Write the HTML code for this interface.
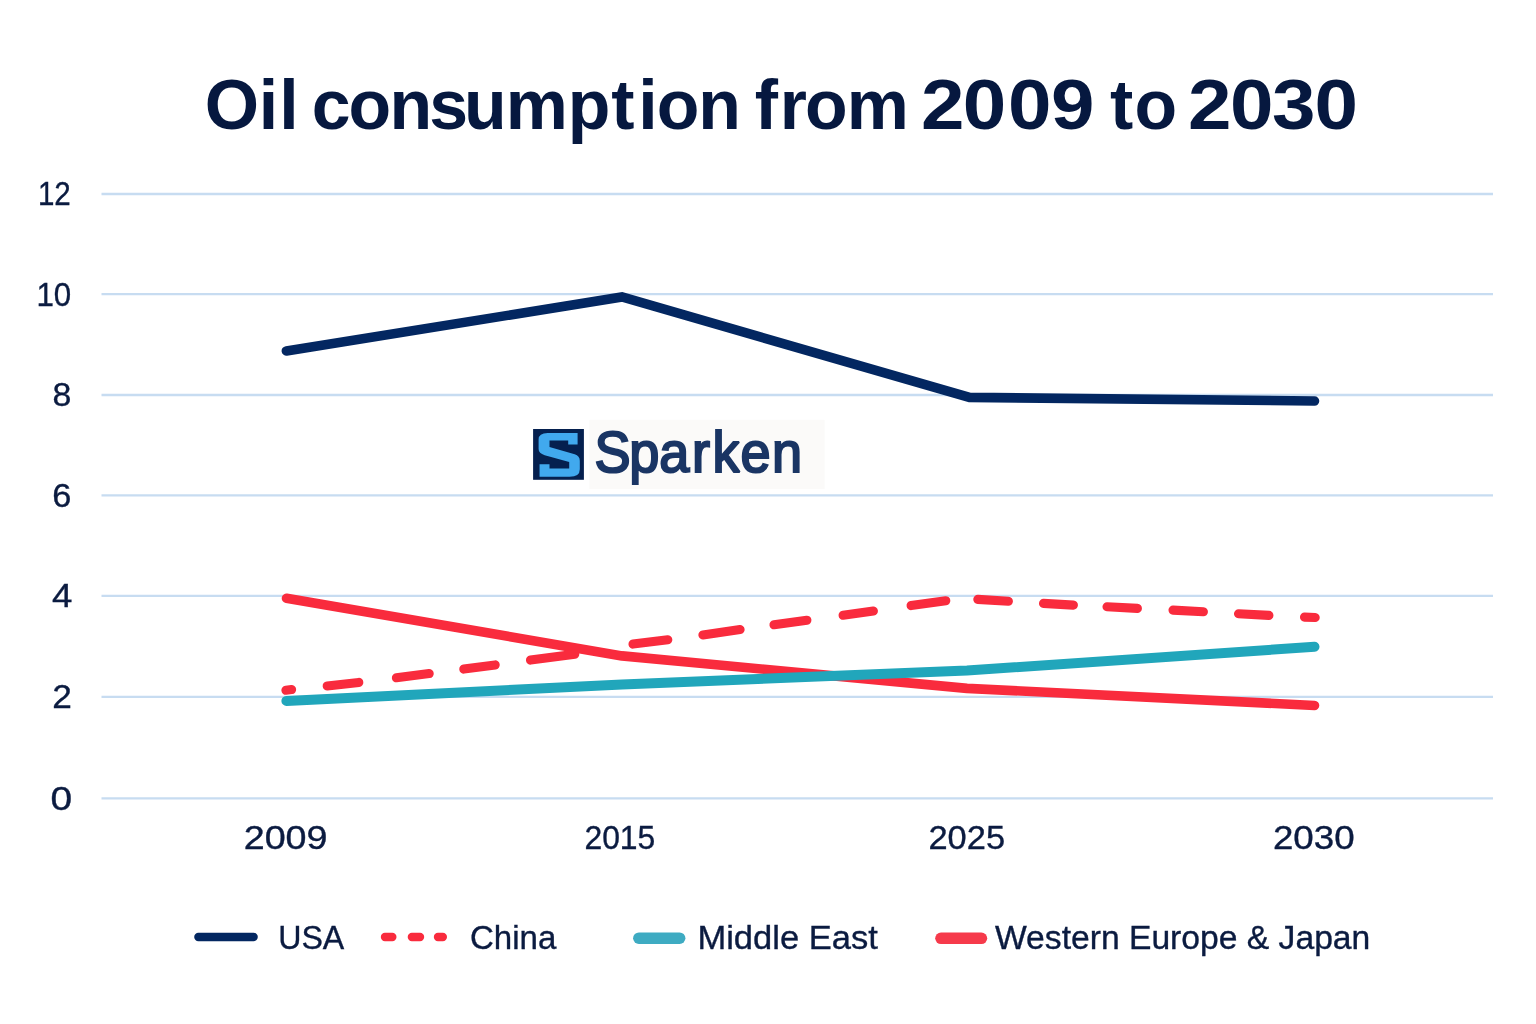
<!DOCTYPE html>
<html lang="en"><head><meta charset="utf-8">
<title>Oil consumption from 2009 to 2030</title>
<style>html,body{margin:0;padding:0;background:#fff;}body{width:1536px;height:1024px;overflow:hidden;}svg{display:block;will-change:transform;}text{font-family:'Liberation Sans', sans-serif;white-space:pre;}</style>
</head><body>
<svg width="1536" height="1024" viewBox="0 0 1536 1024">
<rect width="1536" height="1024" fill="#ffffff"/>
<g stroke="#c7dcf1" stroke-width="2.3">
<line x1="101.5" y1="194.0" x2="1493.0" y2="194.0"/>
<line x1="101.5" y1="294.15" x2="1493.0" y2="294.15"/>
<line x1="101.5" y1="395.0" x2="1493.0" y2="395.0"/>
<line x1="101.5" y1="495.4" x2="1493.0" y2="495.4"/>
<line x1="101.5" y1="595.8" x2="1493.0" y2="595.8"/>
<line x1="101.5" y1="696.9" x2="1493.0" y2="696.9"/>
<line x1="101.5" y1="798.45" x2="1493.0" y2="798.45"/>
</g>
<rect x="589.4" y="419.8" width="235.2" height="69.2" fill="#fbfaf9"/>
<g transform="translate(533.1,429)">
<rect width="50.8" height="50.8" fill="#05204f"/>
<path fill="#41a9ee" d="M14.6 4.1H44.5V15.6H35.1V11.6H16.4V17.9L41.6 25.2Q46.7 26.8 46.7 31.7V40.2Q46.7 47.8 36.5 47.8H6.45V35.3H16.4V39.5H36.1V33L11.6 26.2Q5.5 24.5 5.5 20.1V10.6Q5.5 4.1 14.6 4.1Z"/>
</g>
<polyline points="286.5,598.3 622.0,655.9 967.0,688.4 1314.5,705.5" fill="none" stroke-linecap="round" stroke-linejoin="round" stroke="#f92b3d" stroke-width="9.6"/>
<polyline points="286.4,700.9 622.0,684.4 967.0,670.5 1314.5,646.8" fill="none" stroke-linecap="round" stroke-linejoin="round" stroke="#21a6bb" stroke-width="10.0"/>
<g stroke="#f92b3d" stroke-width="9.1" stroke-linecap="round">
<line x1="285.9" y1="690.3" x2="291.6" y2="689.6"/>
<line x1="327.2" y1="685.9" x2="358.8" y2="682.4"/>
<line x1="396.4" y1="677.8" x2="429.2" y2="673.6"/>
<line x1="463.8" y1="669.1" x2="495.2" y2="664.9"/>
<line x1="530.5" y1="660.1" x2="574.8" y2="654.2"/>
<line x1="633.0" y1="644.1" x2="667.8" y2="639.8"/>
<line x1="702.9" y1="634.9" x2="740.1" y2="629.6"/>
<line x1="774.0" y1="624.8" x2="806.9" y2="620.2"/>
<line x1="843.1" y1="615.3" x2="873.4" y2="611.1"/>
<line x1="911.1" y1="605.6" x2="945.8" y2="600.7"/>
<line x1="977.8" y1="599.4" x2="1008.4" y2="601.3"/>
<line x1="1043.5" y1="603.4" x2="1073.4" y2="605.1"/>
<line x1="1107.0" y1="606.8" x2="1137.4" y2="608.4"/>
<line x1="1173.0" y1="610.1" x2="1203.4" y2="611.8"/>
<line x1="1238.5" y1="613.8" x2="1268.9" y2="615.4"/>
<line x1="1304.5" y1="617.1" x2="1315.2" y2="617.5"/>
</g>
<polyline points="286.4,350.9 622.0,297.0 969.5,397.4 1314.5,401.0" fill="none" stroke-linecap="round" stroke-linejoin="miter" stroke="#032761" stroke-width="9.6"/>
<line x1="198.4" y1="937.0" x2="253.6" y2="937.0" stroke="#032761" stroke-width="8.4" stroke-linecap="round"/>
<g stroke="#f92b3d" stroke-width="8.4" stroke-linecap="round">
<line x1="385.0" y1="937.0" x2="392.3" y2="937.0"/>
<line x1="411.9" y1="937.0" x2="420.0" y2="937.0"/>
<line x1="438.0" y1="937.0" x2="442.8" y2="937.0"/>
</g>
<line x1="638.9" y1="938.2" x2="679.6" y2="938.2" stroke="#3eabc2" stroke-width="11.6" stroke-linecap="round"/>
<line x1="941.0" y1="938.3" x2="981.4" y2="938.3" stroke="#f63a4b" stroke-width="11.6" stroke-linecap="round"/>
<text x="204.85 258.68 279.18" y="128.9" font-size="69.8" font-weight="700" fill="#06183f">Oil</text>
<text x="311.71 348.56 389.44 429.16 463.92 505.73 567.79 611.18 638.33 656.81 698.34" y="128.9" font-size="69.8" font-weight="700" fill="#06183f">consumption</text>
<text x="754.83 779.79 805.11 846.63" y="128.9" font-size="69.8" font-weight="700" fill="#06183f">from</text>
<text transform="scale(1.12 1)" x="822.37 859.56 900.09 938.44" y="128.9" font-size="69.8" font-weight="700" fill="#06183f">2009</text>
<text x="1109.88 1134.61" y="128.9" font-size="69.8" font-weight="700" fill="#06183f">to</text>
<text transform="scale(1.12 1)" x="1060.80 1098.22 1135.64 1173.58" y="128.9" font-size="69.8" font-weight="700" fill="#06183f">2030</text>
<text transform="scale(0.93 1)" x="639.20 676.62 708.94 744.14 766.27 796.32 830.00" y="471.7" font-size="58.2" font-weight="400" fill="#1a3564" stroke="#1a3564" stroke-width="2.2" stroke-linejoin="miter" stroke-miterlimit="2">Sparken</text>
<text id="y_12" x="37.95" y="204.90" font-size="32.4" font-weight="400" fill="#0b1b40" stroke="#0b1b40" stroke-width="0.35" stroke-linejoin="miter" stroke-miterlimit="2" textLength="32.85" lengthAdjust="spacingAndGlyphs">12</text>
<text id="y_10" x="36.45" y="306.05" font-size="32.4" font-weight="400" fill="#0b1b40" stroke="#0b1b40" stroke-width="0.35" stroke-linejoin="miter" stroke-miterlimit="2" textLength="34.85" lengthAdjust="spacingAndGlyphs">10</text>
<text id="y_8" x="52.45" y="406.20" font-size="32.4" font-weight="400" fill="#0b1b40" stroke="#0b1b40" stroke-width="0.35" stroke-linejoin="miter" stroke-miterlimit="2" textLength="18.85" lengthAdjust="spacingAndGlyphs">8</text>
<text id="y_6" x="52.20" y="506.80" font-size="32.4" font-weight="400" fill="#0b1b40" stroke="#0b1b40" stroke-width="0.35" stroke-linejoin="miter" stroke-miterlimit="2" textLength="19.10" lengthAdjust="spacingAndGlyphs">6</text>
<text id="y_4" x="51.95" y="607.20" font-size="32.4" font-weight="400" fill="#0b1b40" stroke="#0b1b40" stroke-width="0.35" stroke-linejoin="miter" stroke-miterlimit="2" textLength="20.35" lengthAdjust="spacingAndGlyphs">4</text>
<text id="y_2" x="52.20" y="708.40" font-size="32.4" font-weight="400" fill="#0b1b40" stroke="#0b1b40" stroke-width="0.35" stroke-linejoin="miter" stroke-miterlimit="2" textLength="19.60" lengthAdjust="spacingAndGlyphs">2</text>
<text id="y_0" x="50.45" y="810.05" font-size="32.4" font-weight="400" fill="#0b1b40" stroke="#0b1b40" stroke-width="0.35" stroke-linejoin="miter" stroke-miterlimit="2" textLength="21.60" lengthAdjust="spacingAndGlyphs">0</text>
<text id="x_2009" x="243.70" y="849.20" font-size="32.4" font-weight="400" fill="#0b1b40" stroke="#0b1b40" stroke-width="0.35" stroke-linejoin="miter" stroke-miterlimit="2" textLength="83.85" lengthAdjust="spacingAndGlyphs">2009</text>
<text id="x_2015" x="584.45" y="849.20" font-size="32.4" font-weight="400" fill="#0b1b40" stroke="#0b1b40" stroke-width="0.35" stroke-linejoin="miter" stroke-miterlimit="2" textLength="70.85" lengthAdjust="spacingAndGlyphs">2015</text>
<text id="x_2025" x="928.45" y="849.20" font-size="32.4" font-weight="400" fill="#0b1b40" stroke="#0b1b40" stroke-width="0.35" stroke-linejoin="miter" stroke-miterlimit="2" textLength="76.60" lengthAdjust="spacingAndGlyphs">2025</text>
<text id="x_2030" x="1272.95" y="849.20" font-size="32.4" font-weight="400" fill="#0b1b40" stroke="#0b1b40" stroke-width="0.35" stroke-linejoin="miter" stroke-miterlimit="2" textLength="81.60" lengthAdjust="spacingAndGlyphs">2030</text>
<text id="l_usa" x="278.20" y="948.60" font-size="32.6" font-weight="400" fill="#0b1b40" stroke="#0b1b40" stroke-width="0.35" stroke-linejoin="miter" stroke-miterlimit="2" textLength="66.10" lengthAdjust="spacingAndGlyphs">USA</text>
<text id="l_china" x="469.95" y="948.60" font-size="32.6" font-weight="400" fill="#0b1b40" stroke="#0b1b40" stroke-width="0.35" stroke-linejoin="miter" stroke-miterlimit="2" textLength="86.35" lengthAdjust="spacingAndGlyphs">China</text>
<text id="l_mid" x="697.45" y="948.60" font-size="32.6" font-weight="400" fill="#0b1b40" stroke="#0b1b40" stroke-width="0.35" stroke-linejoin="miter" stroke-miterlimit="2" textLength="180.35" lengthAdjust="spacingAndGlyphs">Middle East</text>
<text id="l_wej" x="994.95" y="948.60" font-size="32.6" font-weight="400" fill="#0b1b40" stroke="#0b1b40" stroke-width="0.35" stroke-linejoin="miter" stroke-miterlimit="2" textLength="375.35" lengthAdjust="spacingAndGlyphs">Western Europe &amp; Japan</text>
</svg>
</body></html>
